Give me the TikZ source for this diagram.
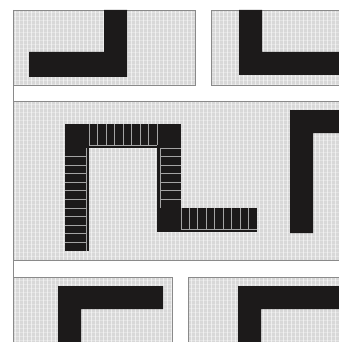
\documentclass[tikz,border=0pt]{standalone}
\usetikzlibrary{calc}
\definecolor{floorgray}{HTML}{D8D8D8}
\definecolor{edgegray}{HTML}{8A8A8A}
\definecolor{wallblack}{HTML}{1C1A1A}
\definecolor{jointgray}{HTML}{A4A4A4}

\begin{document}
\begin{tikzpicture}[x=1pt,y=-1pt,
    panel/.style={fill=floorgray},
    paneledge/.style={draw=edgegray, line width=0.9pt},
    wall/.style={fill=wallblack},
    joint/.style={draw=jointgray, line width=0.9pt}]
  \useasboundingbox (0,0) rectangle (339,342);
  \clip (0,0) rectangle (339,342);
  % floor panels
  \fill[panel] (13,10) rectangle (195,85);
  \fill[panel] (211,10) rectangle (345,85);
  \fill[panel] (13,101) rectangle (345,260);
  \fill[panel] (13,277) rectangle (172,348);
  \fill[panel] (188,277) rectangle (345,348);
  % fine grid texture
  \foreach \x in {15,19,...,339} \draw[white, opacity=0.55, line width=0.5pt] (\x,0) -- (\x,342);
  \foreach \y in {12,16,...,342} \draw[white, opacity=0.3, line width=0.4pt] (0,\y) -- (339,\y);
  \fill[white] (0,0) rectangle (339,10);
  \fill[white] (0,0) rectangle (13,342);
  % panel edges
  \draw[paneledge] (13,10) rectangle (195,85);
  \draw[paneledge] (211,10) rectangle (345,85);
  \draw[paneledge] (13,101) rectangle (345,260);
  \draw[paneledge] (13,277) rectangle (172,348);
  \draw[paneledge] (188,277) rectangle (345,348);
  \draw[paneledge] (13,10) -- (13,342);
  % solid walls
  \fill[wall] (29,52) -- (104,52) -- (104,10) -- (127,10) -- (127,77) -- (29,77) -- cycle;
  \fill[wall] (239,10) -- (262,10) -- (262,52) -- (339,52) -- (339,75) -- (239,75) -- cycle;
  \fill[wall] (290,110) -- (339,110) -- (339,133) -- (313,133) -- (313,233) -- (290,233) -- cycle;
  \fill[wall] (58,342) -- (58,286) -- (163,286) -- (163,309) -- (81,309) -- (81,342) -- cycle;
  \fill[wall] (238,342) -- (238,286) -- (339,286) -- (339,309) -- (261,309) -- (261,342) -- cycle;
  % brick wall
  \fill[wall] (65,124) rectangle (181,148);
  \fill[wall] (65,148) rectangle (89,251);
  \fill[wall] (157,148) rectangle (181,232);
  \fill[wall] (181,208) rectangle (257,232);
  \draw[joint] (86,148) -- (86,251);
  \foreach \k in {1,...,11} \draw[joint] (65,{148+8.58*\k}) -- (86,{148+8.58*\k});
  \draw[joint] (89,145) -- (157,145);
  \foreach \k in {0,...,8} \draw[joint] ({89+8.5*\k},124) -- ({89+8.5*\k},145);
  \draw[joint] (160,148) -- (160,208);
  \foreach \k in {0,...,6} \draw[joint] (160,{148+8.57*\k}) -- (181,{148+8.57*\k});
  \draw[joint] (181,229) -- (257,229);
  \foreach \k in {0,...,8} \draw[joint] ({181+8.44*\k},208) -- ({181+8.44*\k},229);
\end{tikzpicture}
\end{document}
